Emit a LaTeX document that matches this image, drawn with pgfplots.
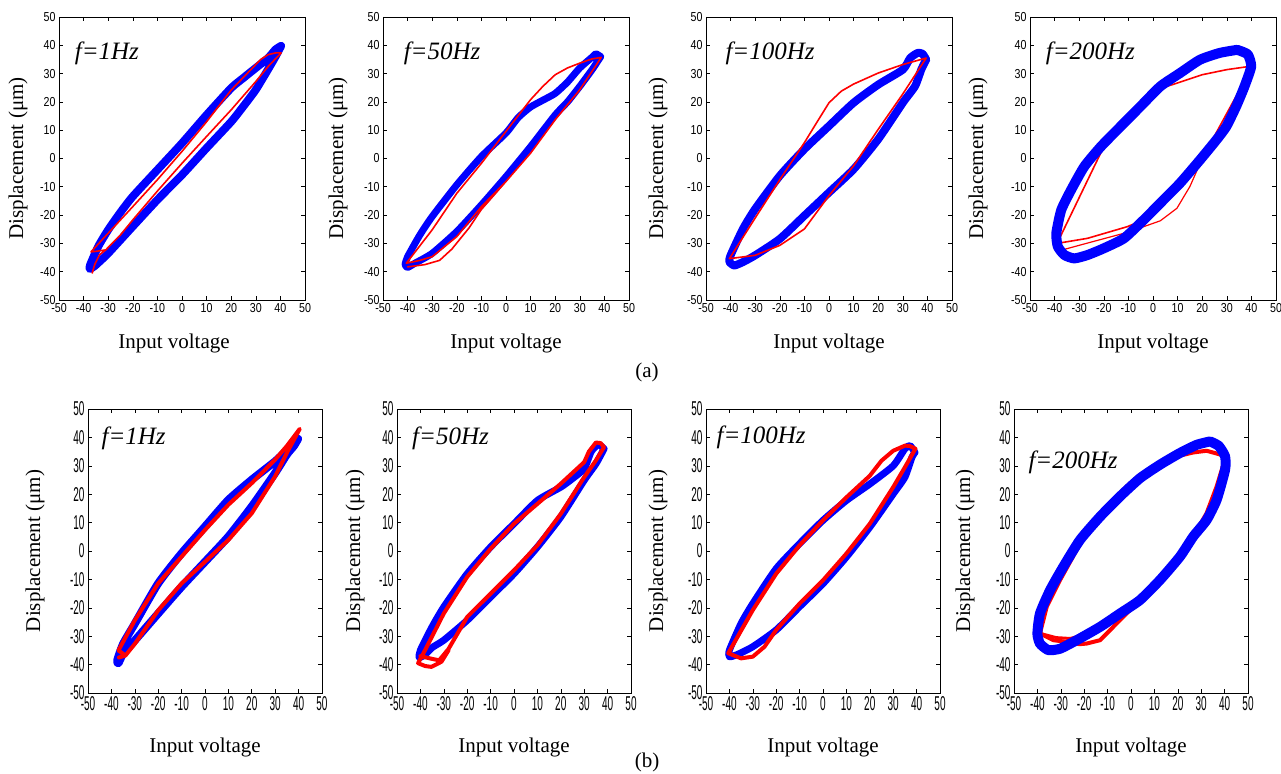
\documentclass[border=0pt]{standalone}
\usepackage{pgfplots}
\pgfplotsset{compat=1.18}
\usepackage{fontspec}
\setmainfont{Liberation Serif}
\newfontfamily\tickfont[FakeStretch=0.82]{Liberation Sans}
\newfontfamily\condfont[FakeStretch=0.5]{Liberation Sans}
\pgfplotsset{
  hyst/.style={
    scale only axis, anchor=south west,
    xmin=-50,xmax=50,ymin=-50,ymax=50,
    xtick={-50,-40,...,50}, ytick={-50,-40,...,50},
    tick align=inside, major tick length=4pt,
    axis line style={line width=0.9pt},
    every tick/.style={black, line width=0.6pt},
    /pgf/number format/assume math mode=true,
    xlabel={Input voltage}, ylabel={Displacement (μm)},
    every axis x label/.style={at={(axis description cs:0.5,0)},anchor=center,font=\fontsize{21}{21}\selectfont},
    every axis y label/.style={at={(axis description cs:0,0.5)},anchor=center,rotate=90,font=\fontsize{21}{21}\selectfont},
  },
  toprow/.style={hyst, width=246pt, height=283pt,
    tick label style={font=\tickfont\fontsize{13}{13}\selectfont},
    xlabel style={yshift=-43pt}},
  botrow/.style={hyst, width=234pt, height=284pt,
    tick label style={font=\condfont\fontsize{20}{20}\selectfont},
    xlabel style={yshift=-54pt}},
  bl/.style={blue, line width=#1, line join=round, line cap=round, smooth, tension=0.35},
  rl/.style={red, line width=#1, line join=round, line cap=round},
}
\newcommand{\flabel}[3]{\node[anchor=west, font=\itshape\fontsize{25}{25}\selectfont] at (axis cs:#1,#2) {#3};}
\begin{document}
\begin{tikzpicture}[x=1pt,y=1pt]
\useasboundingbox (0,0) rectangle (1281,-773);
% ---------- (a) f=1Hz
\begin{axis}[toprow, at={(59pt,-300pt)}, ylabel style={yshift=41pt}, xlabel style={xshift=-8pt}]
\addplot[bl=8pt] coordinates {(40.3,39.8) (38,38.5) (35,35.5) (30,32) (25,28.5) (20,24.9) (10,15.4) (0,5.4) (-10,-4) (-20,-13.4) (-25,-19) (-30,-25.2) (-34,-31) (-37.3,-37.5) (-37.5,-39) (-35.5,-38) (-33,-36) (-30,-33.5) (-20,-24) (-10,-14.6) (0,-5.8) (10,3.7) (20,13) (25,18.5) (30,24.3) (35,31.5) (38,36) (40.3,39.8)};
\addplot[rl=1.6pt] coordinates {(-36.5,-40.5) (-35.5,-37.5) (-33.5,-34) (-31,-32.3) (-25,-27) (-20,-21.7) (-10,-11.5) (0,-1.7) (10,7.8) (20,17.2) (30,27.2) (35,32.5) (40.3,37.3) (38,37.3) (35,36.7) (32,35) (30,33.2) (20,24.2) (10,13) (0,2.5) (-10,-7.5) (-20,-17) (-30,-26.4) (-37,-33) (-35,-32.8) (-31,-32.3)};
\flabel{-45}{37}{f=1Hz}
\end{axis}
% ---------- (a) f=50Hz
\begin{axis}[toprow, at={(383pt,-300pt)}, ylabel style={yshift=45pt}]
\addplot[bl=7pt] coordinates {(38.5,36) (36.5,37) (35,35.8) (30,32) (25,27) (20,23) (15,20.6) (10,18.2) (5,14.5) (0,9) (-10,0.7) (-20,-9.3) (-30,-20.5) (-35,-27) (-40,-34.7) (-41,-37.5) (-40,-38.5) (-37,-37) (-30,-33.5) (-20,-25.8) (-10,-16.4) (0,-6.4) (10,4.2) (20,15.4) (25,20) (30,25.5) (35,31.4) (38.5,36)};
\addplot[rl=1.6pt] coordinates {(-40,-38.3) (-33,-37.5) (-27,-36) (-22,-32) (-15,-24.5) (-10,-18) (0,-8.1) (10,1.9) (20,13.7) (30,24.3) (38.7,35.7) (35,35.2) (30,33.7) (25,32) (20,29.6) (15,25.5) (10,20.8) (0,9.6) (-10,-1.7) (-20,-12.3) (-30,-25.2) (-40.5,-37) (-35,-36) (-30,-34.7) (-20,-27.6) (-10,-17) (0,-8.1)};
\flabel{-43}{37}{f=50Hz}
\end{axis}
% ---------- (a) f=100Hz
\begin{axis}[toprow, at={(706pt,-300pt)}, ylabel style={yshift=48pt}]
\addplot[bl=8pt] coordinates {(39.5,35) (38,37) (36,37.3) (33,35.5) (30,31.4) (20,26.1) (10,19.7) (0,11.5) (-10,3.3) (-20,-6.1) (-30,-17.8) (-35,-24.9) (-40,-34.2) (-40.5,-36.5) (-38.5,-37.8) (-35,-36.6) (-30,-34.2) (-20,-28.4) (-10,-20.2) (0,-12) (10,-3.8) (20,6.8) (30,19.7) (35,25.6) (37.5,31.4) (39.5,35)};
\addplot[rl=1.6pt] coordinates {(39.5,35.5) (30,33.2) (20,30.2) (10,26.3) (5,23.8) (0,19.7) (-5,12.7) (-10,5.6) (-20,-7.5) (-30,-21) (-40.5,-35.4) (-30,-34.2) (-20,-30.7) (-10,-24.9) (-5,-19) (0,-13.1) (10,-2.6) (20,10.3) (30,22.8) (39.5,35.5)};
\flabel{-43.5}{37}{f=100Hz}
\end{axis}
% ---------- (a) f=200Hz
\begin{axis}[toprow, at={(1030pt,-300pt)}, ylabel style={yshift=52pt}]
\addplot[rl=1.6pt] coordinates {(40.5,32.7) (30,31.4) (20,29.6) (10,26.7) (5,25.3) (0,21.9) (-10,13.7) (-20,4.2) (-39,-30) (-26.6,-28.2) (-10.5,-24.1) (-3.8,-21.7) (4.3,-14.6) (11,-8.7) (20,0) (40.5,32.7)};
\addplot[rl=1.2pt] coordinates {(-39,-30) (-36,-32.1) (-25,-29.5) (-10,-26) (3,-22) (9.7,-17.6) (15,-9.9) (20,0)};
\addplot[bl=10pt] coordinates {(34.2,38.4) (27.1,37.3) (19.1,34.9) (11,30.2) (3,25.5) (-5.1,18.4) (-13.2,11.3) (-21.2,4.2) (-27.9,-2.8) (-33.3,-11.1) (-37.3,-18.2) (-39.3,-26.4) (-38.7,-31.1) (-36,-34.1) (-32,-35.3) (-26.6,-34.1) (-19.9,-31.7) (-11.8,-28.2) (-3.8,-21.7) (4.3,-14.6) (11,-8.7) (19.1,-0.5) (25.8,6.6) (29.8,11.3) (33.8,18.4) (37.2,25.5) (39.9,32.5) (38.5,36.8) (34.2,38.4)};
\flabel{-45}{37}{f=200Hz}
\end{axis}
% ---------- (b) f=1Hz
\begin{axis}[botrow, at={(88pt,-693pt)}, ylabel style={yshift=53pt}]
\addplot[bl=8pt] coordinates {(39.8,39.5) (38,38.5) (35,35.5) (30,31.6) (20,25.1) (10,18) (0,8.6) (-10,-0.8) (-20,-11.4) (-30,-25.6) (-35,-32.7) (-37.5,-38.5) (-37,-39.5) (-35,-36.2) (-30,-31.5) (-20,-22) (-10,-12.6) (0,-3.8) (10,5.1) (20,15.7) (30,27.5) (35,34) (38,37) (39.8,39.5)};
\addplot[rl=4pt] coordinates {(-36.8,-37.5) (-34,-36.8) (-30,-32.7) (-20,-20.9) (-10,-11.4) (0,-3.8) (10,3.9) (20,13.3) (30,26.3) (35,34.6) (40.5,43) (35,37) (30,32.2) (20,23.9) (10,16.3) (0,7.4) (-10,-2) (-20,-11.4) (-30,-24.4) (-37,-35) (-34,-36.8)};
\flabel{-45.7}{39.8}{f=1Hz}
\end{axis}
% ---------- (b) f=50Hz
\begin{axis}[botrow, at={(397pt,-693pt)}, ylabel style={yshift=42pt}]
\addplot[bl=7pt] coordinates {(38.5,36) (36,37.5) (33,35) (30,29) (25,25.5) (20,22.5) (10,17.8) (0,9.6) (-10,1.4) (-20,-8) (-30,-19.7) (-35,-26.7) (-40,-34.9) (-40.5,-37.5) (-38,-36.5) (-35,-34) (-30,-31.4) (-20,-24.4) (-10,-16.2) (0,-8) (10,1.4) (20,12) (30,24.9) (35,30.7) (38.5,36)};
\addplot[rl=4pt] coordinates {(-40,-37) (-36,-37.8) (-32,-38.5) (-28,-34.5) (-20,-23.2) (-10,-15) (0,-6.8) (10,2) (20,13.1) (30,26) (35,31.9) (38.5,36.6) (37,38) (35,38.2) (32,35) (30,31.3) (25,27.5) (20,23.7) (10,16.6) (0,9.6) (-10,0.8) (-20,-9.1) (-30,-22) (-38,-34.9) (-41,-39.5) (-38,-40.5) (-35.3,-40.8) (-31,-39) (-28,-35)};
\flabel{-45}{39.8}{f=50Hz}
\end{axis}
% ---------- (b) f=100Hz
\begin{axis}[botrow, at={(706pt,-693pt)}, ylabel style={yshift=48pt}]
\addplot[bl=7pt] coordinates {(39.3,34.7) (37.2,37.1) (35,36) (30,30) (20,23.6) (10,17.8) (0,10.8) (-10,2.6) (-20,-6.2) (-30,-18.5) (-35,-25.5) (-40,-34.9) (-40,-37.2) (-37,-36.6) (-30,-33.7) (-20,-27.8) (-10,-19.6) (0,-11.5) (10,-2.1) (20,8.4) (30,20.1) (35,26) (38,33) (39.3,34.7)};
\addplot[rl=4pt] coordinates {(39.5,36) (37,37) (35,37.1) (30,35.3) (25,31.8) (20,26.5) (10,18.9) (0,10.8) (-10,2) (-20,-8) (-30,-20.8) (-40.5,-36) (-35,-37.8) (-30,-37.2) (-25,-33.7) (-20,-27.8) (-10,-18.5) (0,-10.3) (10,-0.9) (20,9.6) (30,22.5) (35,29.5) (39.5,36)};
\flabel{-47}{40}{f=100Hz}
\end{axis}
% ---------- (b) f=200Hz
\begin{axis}[botrow, at={(1014pt,-693pt)}, ylabel style={yshift=49pt}]
\addplot[rl=4pt] coordinates {(40,33) (38,34) (32.3,35.3) (26.6,34.7) (19.5,33.3) (12.4,30.4) (3.8,26.8) (-1.9,22.7) (-9,16.8) (-16.2,9.8) (-23.2,0.4) (-30.3,-10.2) (-36,-19.6) (-38.9,-29) (-33.2,-31.4) (-27.5,-32) (-22,-32.8) (-19,-32.6) (-13.2,-31.4) (-9,-27.9) (-1.9,-22) (5.3,-16.1) (12.4,-10.2) (20.9,-2) (26.6,5.1) (32.3,13.3) (36.6,22.7) (40.2,32.4)};
\addplot[rl=3pt] coordinates {(-38.9,-29) (-32,-30.5) (-26,-30.8) (-20,-29.5)};
\addplot[bl=10pt] coordinates {(33.8,38.6) (28.1,37.4) (20.9,34.5) (12.4,30.4) (3.8,25.6) (-4.7,19.2) (-13.2,12.1) (-21.8,3.9) (-28.9,-5.5) (-34.6,-13.8) (-38.9,-22) (-40,-29.1) (-38.9,-32.6) (-35.3,-34.9) (-30.3,-34.4) (-23.2,-31.4) (-13.2,-26.7) (-4.7,-22) (3.8,-17.3) (12.4,-10.2) (20.9,-2) (26.6,5.1) (32.3,10.9) (36.6,18) (40.2,28.6) (40.2,33.3) (37.5,37) (33.8,38.6)};
\flabel{-45.3}{31.3}{f=200Hz}
\end{axis}
\node[font=\fontsize{21}{21}\selectfont] at (647,-372) {(a)};
\node[font=\fontsize{21}{21}\selectfont] at (647,-762) {(b)};
\end{tikzpicture}
\end{document}
